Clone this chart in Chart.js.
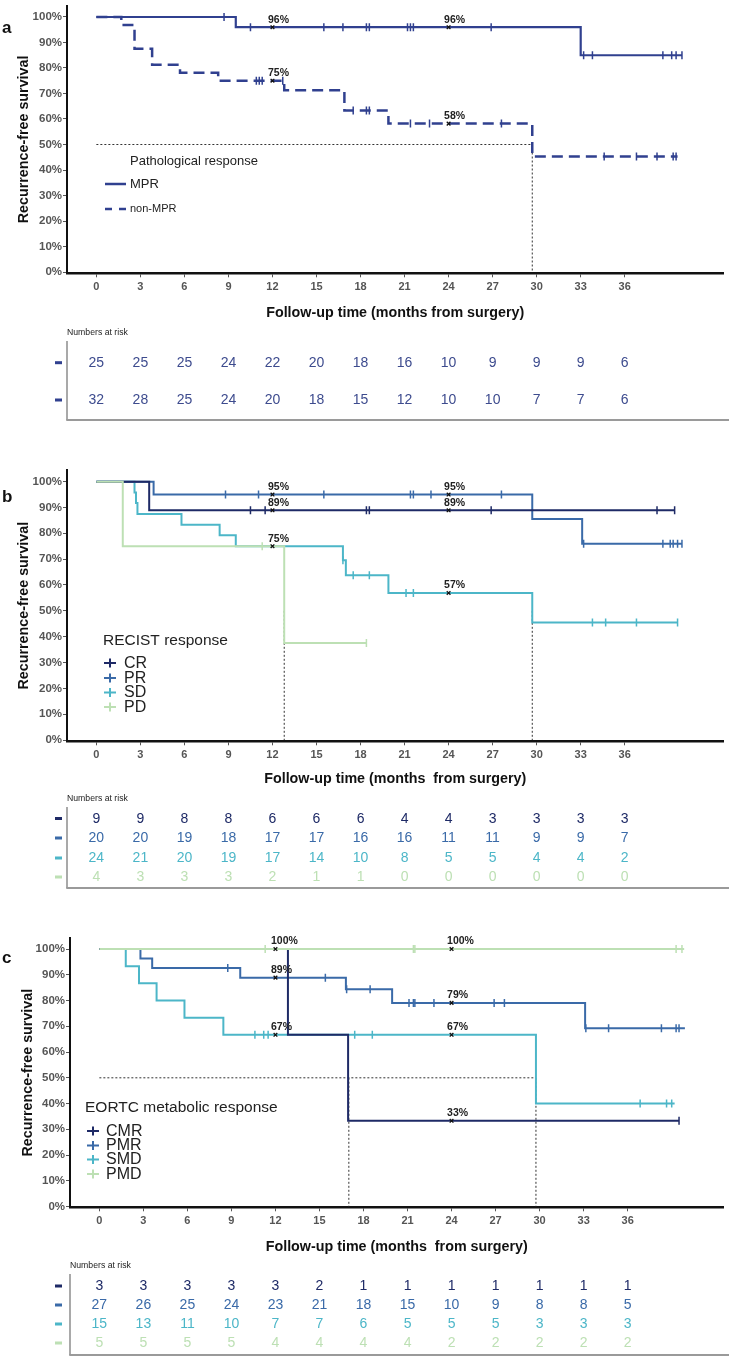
<!DOCTYPE html>
<html lang="en">
  <head>
    <meta charset="UTF-8" />
    <title>Recurrence-free survival by response</title>
    <script src="https://cdn.jsdelivr.net/npm/chart.js"></script>
    <style>
      * {
        margin: 0;
        padding: 0;
        box-sizing: border-box;
      }

      body {
        width: 729px;
        height: 1358px;
        background: #ffffff;
        position: relative;
        overflow: hidden;
      }

      canvas {
        position: absolute;
        left: 0;
      }
    </style>
  </head>
  <body>
    <canvas id="panelA" width="729" height="455" style="top: 0px"></canvas>
    <canvas id="panelB" width="729" height="450" style="top: 455px"></canvas>
    <canvas id="panelC" width="729" height="453" style="top: 905px"></canvas>

    <script>
      // ---- shared axes ----
      const months = [0, 3, 6, 9, 12, 15, 18, 21, 24, 27, 30, 33, 36];
      const pctTicks = [0, 10, 20, 30, 40, 50, 60, 70, 80, 90, 100];
      const markTimes = [12, 24];
      const medianLevel = 50;

      // ---- panel a: pathological response ----
      const mprTime = [0, 9.5, 33.0, 39.9];
      const mprSurv = [100, 96, 85, 85];
      const mprCens = [8.7, 10.5, 15.5, 16.8, 18.4, 18.6, 21.2, 21.4, 21.6, 26.9, 33.2, 33.8, 38.6, 39.2, 39.5, 39.9];
      const mprRisk = [25, 25, 25, 24, 22, 20, 18, 16, 10, 9, 9, 9, 6];

      const nonTime = [0, 1.7, 2.6, 3.8, 5.7, 8.3, 12.8, 16.9, 19.9, 29.7, 39.6];
      const nonSurv = [100, 96.9, 87.5, 81.3, 78.1, 75, 71.3, 63.3, 58.2, 45.3, 45.3];
      const nonCens = [10.9, 11.1, 11.3, 12.7, 17.5, 18.4, 18.6, 21.4, 22.7, 27.6, 34.6, 36.8, 38.2, 39.3, 39.5];
      const nonRisk = [32, 28, 25, 24, 20, 18, 15, 12, 10, 10, 7, 7, 6];
      const aMedians = [29.7];

      // ---- panel b: RECIST response ----
      const crTime = [0, 3.6, 39.4];
      const crSurv = [100, 88.9, 88.9];
      const crCens = [10.5, 11.5, 18.4, 18.6, 26.9, 38.2, 39.4];
      const crRisk = [9, 9, 8, 8, 6, 6, 6, 4, 4, 3, 3, 3, 3];

      const prTime = [0, 3.9, 29.7, 33.1, 39.9];
      const prSurv = [100, 95, 85.5, 76, 76];
      const prCens = [8.8, 11.05, 15.5, 21.4, 21.6, 22.8, 27.6, 33.2, 38.6, 39.1, 39.3, 39.6, 39.9];
      const prRisk = [20, 20, 19, 18, 17, 17, 16, 16, 11, 11, 9, 9, 7];

      const sdTime = [0, 2.6, 2.7, 2.8, 5.8, 8.4, 9.5, 16.8, 17.0, 19.9, 29.7, 39.6];
      const sdSurv = [100, 95.8, 91.7, 87.5, 83.3, 79.2, 75, 69.6, 63.8, 56.9, 45.5, 45.5];
      const sdCens = [16.8, 17.5, 18.6, 21.1, 21.6, 33.8, 34.7, 36.8, 39.6];
      const sdRisk = [24, 21, 20, 19, 17, 14, 10, 8, 5, 5, 4, 4, 2];

      const pdTime = [0, 1.8, 12.8, 18.4];
      const pdSurv = [100, 75, 37.5, 37.5];
      const pdCens = [11.3, 18.4];
      const pdRisk = [4, 3, 3, 3, 2, 1, 1, 0, 0, 0, 0, 0, 0];
      const bMedians = [12.8, 29.7];

      // ---- panel c: EORTC metabolic response ----
      const cmrTime = [0, 12.85, 16.95, 39.5];
      const cmrSurv = [100, 66.7, 33.3, 33.3];
      const cmrCens = [39.5];
      const cmrRisk = [3, 3, 3, 3, 3, 2, 1, 1, 1, 1, 1, 1, 1];

      const pmrTime = [0, 2.8, 3.6, 9.6, 16.8, 19.95, 33.1, 39.9];
      const pmrSurv = [100, 96.3, 92.6, 88.9, 84.4, 79.1, 69.2, 69.2];
      const pmrCens = [8.75, 15.4, 16.85, 18.45, 21.1, 21.4, 21.5, 22.8, 26.9, 27.6, 33.15, 34.7, 38.3, 39.3, 39.5];
      const pmrRisk = [27, 26, 25, 24, 23, 21, 18, 15, 10, 9, 8, 8, 5];

      const smdTime = [0, 1.8, 2.7, 3.9, 5.8, 8.45, 29.75, 39.2];
      const smdSurv = [100, 93.3, 86.7, 80, 73.3, 66.7, 40, 40];
      const smdCens = [10.6, 11.2, 11.5, 17.4, 18.6, 36.85, 38.65, 39.0];
      const smdRisk = [15, 13, 11, 10, 7, 7, 6, 5, 5, 5, 3, 3, 3];

      const pmdTime = [0, 39.85];
      const pmdSurv = [100, 100];
      const pmdCens = [11.3, 21.4, 21.5, 39.3, 39.7];
      const pmdRisk = [5, 5, 5, 5, 4, 4, 4, 4, 2, 2, 2, 2, 2];
      const cMedians = [17.0, 29.75];

      // colours
      const aBlue = "#30408f";
      const navy = "#1e2a66";
      const blue = "#3a6aa8";
      const teal = "#4cb6c8";
      const green = "#bde0b4";

      Chart.defaults.font.family = "'Liberation Sans', Arial, sans-serif";
      Chart.defaults.color = "#444";

      function survAt(times, surv, t) {
        let s = surv[0];
        times.forEach((tt, i) => {
          if (tt <= t) s = surv[i];
        });
        return s;
      }

      const panels = [
        {
          canvas: "panelA",
          letter: "a",
          letterY: 28,
          xMin: -2,
          xMax: 42.73,
          yMin: -0.5,
          yMax: 104.5,
          padTop: 3,
          padBottom: 133.2,
          xAxisH: 48.5,
          yAxisW: 67,
          yTitlePad: 15.5,
          xTitle: "Follow-up time (months from surgery)",
          medians: aMedians,
          medianHoriz: true,
          series: [
            { label: "MPR", time: mprTime, surv: mprSurv, cens: mprCens, marks: markTimes, risk: mprRisk, color: aBlue, riskColor: "#3d4b8e", width: 2.2, order: 2 },
            { label: "non-MPR", time: nonTime, surv: nonSurv, cens: nonCens, marks: markTimes, risk: nonRisk, color: aBlue, riskColor: "#3d4b8e", width: 2.5, dash: [11, 6], order: 1 },
          ],
          legend: {
            kind: "lines",
            title: "Pathological response",
            titleX: 130,
            titleY: 161,
            items: [
              { y: 184, size: 13 },
              { y: 209, size: 11 },
            ],
          },
          risk: { labelY: 333, rows: [362.7, 400], top: 341, bottom: 420 },
        },
        {
          canvas: "panelB",
          letter: "b",
          letterY: 42,
          xMin: -2,
          xMax: 42.73,
          yMin: -0.5,
          yMax: 104.5,
          padTop: 15,
          padBottom: 117.2,
          xAxisH: 46.5,
          yAxisW: 67,
          yTitlePad: 15.5,
          xTitle: "Follow-up time (months  from surgery)",
          medians: bMedians,
          medianHoriz: false,
          series: [
            { label: "CR", time: crTime, surv: crSurv, cens: crCens, marks: markTimes, risk: crRisk, color: navy, order: 2 },
            { label: "PR", time: prTime, surv: prSurv, cens: prCens, marks: markTimes, risk: prRisk, color: blue, order: 3 },
            { label: "SD", time: sdTime, surv: sdSurv, cens: sdCens, marks: markTimes, risk: sdRisk, color: teal, order: 4 },
            { label: "PD", time: pdTime, surv: pdSurv, cens: pdCens, marks: [], risk: pdRisk, color: green, order: 1 },
          ],
          legend: {
            kind: "plus",
            title: "RECIST response",
            titleX: 103,
            titleY: 186,
            markerX: 110,
            labelX: 124,
            rows: [208, 223, 237.5, 252],
          },
          risk: { labelY: 344, rows: [363.5, 383, 403, 422], top: 352, bottom: 433 },
        },
        {
          canvas: "panelC",
          letter: "c",
          letterY: 53.5,
          xMin: -2,
          xMax: 42.53,
          yMin: -0.3,
          yMax: 104.3,
          padTop: 33,
          padBottom: 102.2,
          xAxisH: 48.5,
          yAxisW: 70,
          yTitlePad: 19.5,
          xTitle: "Follow-up time (months  from surgery)",
          medians: cMedians,
          medianHoriz: true,
          series: [
            { label: "CMR", time: cmrTime, surv: cmrSurv, cens: cmrCens, marks: [24], risk: cmrRisk, color: navy, order: 2 },
            { label: "PMR", time: pmrTime, surv: pmrSurv, cens: pmrCens, marks: markTimes, risk: pmrRisk, color: blue, order: 3 },
            { label: "SMD", time: smdTime, surv: smdSurv, cens: smdCens, marks: markTimes, risk: smdRisk, color: teal, order: 4 },
            { label: "PMD", time: pmdTime, surv: pmdSurv, cens: pmdCens, marks: markTimes, risk: pmdRisk, color: green, order: 1 },
          ],
          legend: {
            kind: "plus",
            title: "EORTC metabolic response",
            titleX: 85,
            titleY: 203,
            markerX: 93,
            labelX: 106,
            rows: [226, 240.5, 254.5, 269],
          },
          risk: { labelY: 361, rows: [381, 400, 419, 438], top: 369, bottom: 450 },
        },
      ];

      function buildDatasets(p) {
        const sets = [];
        p.series.forEach((s) => {
          sets.push({
            type: "line",
            data: s.time.map((t, i) => ({ x: t, y: s.surv[i] })),
            stepped: true,
            borderColor: s.color,
            borderWidth: s.width || 2,
            borderDash: s.dash || [],
            pointRadius: 0,
            fill: false,
            order: s.order,
          });
          sets.push({
            data: s.cens.map((t) => ({ x: t, y: survAt(s.time, s.surv, t) })),
            pointStyle: "line",
            rotation: 90,
            pointRadius: 4,
            borderWidth: 1.5,
            borderColor: s.color,
            backgroundColor: s.color,
            order: s.order,
          });
          sets.push({
            isMarker: true,
            data: s.marks.map((t) => ({ x: t, y: survAt(s.time, s.surv, t) })),
            pointStyle: "crossRot",
            pointRadius: 2.6,
            borderWidth: 1.3,
            borderColor: "#111",
            backgroundColor: "#111",
            order: 0,
          });
        });
        const last = Math.max(...p.medians);
        const dotted = (pts) => ({
          type: "line",
          data: pts,
          borderColor: "#333",
          borderWidth: 1,
          borderDash: [2, 2],
          pointRadius: 0,
          fill: false,
          order: 8,
        });
        p.medians.forEach((m) =>
          sets.push(dotted([{ x: m, y: medianLevel }, { x: m, y: 0 }]))
        );
        if (p.medianHoriz) {
          sets.push(dotted([{ x: 0, y: medianLevel }, { x: last, y: medianLevel }]));
        }
        return sets;
      }

      function panelPlugin(p) {
        return {
          id: "panelDecor",
          afterDatasetsDraw(chart) {
            const ctx = chart.ctx;
            // percentage labels above the x markers
            ctx.save();
            ctx.font = "bold 10.5px 'Liberation Sans', Arial, sans-serif";
            ctx.fillStyle = "#222";
            ctx.textAlign = "left";
            ctx.textBaseline = "middle";
            chart.data.datasets.forEach((ds, i) => {
              if (!ds.isMarker) return;
              chart.getDatasetMeta(i).data.forEach((pt, j) => {
                const v = ds.data[j].y;
                ctx.fillText(Math.round(v) + "%", pt.x - 4.5, pt.y - 7.5);
              });
            });
            ctx.restore();
          },
          afterDraw(chart) {
            const ctx = chart.ctx;
            const xs = chart.scales.x;
            const area = chart.chartArea;
            ctx.save();

            // panel letter
            ctx.font = "bold 17px 'Liberation Sans', Arial, sans-serif";
            ctx.fillStyle = "#111";
            ctx.textBaseline = "middle";
            ctx.textAlign = "left";
            ctx.fillText(p.letter, 2, p.letterY);

            // legend
            const lg = p.legend;
            ctx.fillStyle = "#222";
            if (lg.kind === "lines") {
              ctx.font = "13px 'Liberation Sans', Arial, sans-serif";
              ctx.fillText(lg.title, lg.titleX, lg.titleY);
              p.series.forEach((s, i) => {
                const it = lg.items[i];
                ctx.strokeStyle = s.color;
                ctx.lineWidth = 2.5;
                ctx.setLineDash(s.dash ? [7, 7] : []);
                ctx.beginPath();
                ctx.moveTo(105, it.y);
                ctx.lineTo(126, it.y);
                ctx.stroke();
                ctx.setLineDash([]);
                ctx.fillStyle = "#222";
                ctx.font = it.size + "px 'Liberation Sans', Arial, sans-serif";
                ctx.fillText(s.label, lg.titleX, it.y);
              });
            } else {
              ctx.font = "15.5px 'Liberation Sans', Arial, sans-serif";
              ctx.fillText(lg.title, lg.titleX, lg.titleY);
              p.series.forEach((s, i) => {
                const y = lg.rows[i];
                ctx.strokeStyle = s.color;
                ctx.lineWidth = 2;
                ctx.beginPath();
                ctx.moveTo(lg.markerX - 6, y);
                ctx.lineTo(lg.markerX + 6, y);
                ctx.moveTo(lg.markerX, y - 4.5);
                ctx.lineTo(lg.markerX, y + 4.5);
                ctx.stroke();
                ctx.fillStyle = "#222";
                ctx.font = "16px 'Liberation Sans', Arial, sans-serif";
                ctx.fillText(s.label, lg.labelX, y + 0.5);
              });
            }

            // numbers at risk table
            const rk = p.risk;
            ctx.font = "8.7px 'Liberation Sans', Arial, sans-serif";
            ctx.fillStyle = "#222";
            ctx.textAlign = "left";
            ctx.fillText("Numbers at risk", area.left, rk.labelY);

            ctx.strokeStyle = "#8c8c8c";
            ctx.lineWidth = 1.5;
            ctx.beginPath();
            ctx.moveTo(area.left, rk.top);
            ctx.lineTo(area.left, rk.bottom);
            ctx.stroke();
            ctx.strokeStyle = "#9a9a9a";
            ctx.lineWidth = 2;
            ctx.beginPath();
            ctx.moveTo(area.left - 0.75, rk.bottom);
            ctx.lineTo(chart.width, rk.bottom);
            ctx.stroke();

            ctx.textAlign = "center";
            ctx.font = "14px 'Liberation Sans', Arial, sans-serif";
            p.series.forEach((s, i) => {
              const y = rk.rows[i];
              ctx.fillStyle = s.color;
              ctx.fillRect(55, y - 1.5, 7, 3);
              ctx.fillStyle = s.riskColor || s.color;
              s.risk.forEach((n, j) => {
                ctx.fillText(String(n), xs.getPixelForValue(months[j]), y + 0.5);
              });
            });
            ctx.restore();
          },
        };
      }

      panels.forEach((p) => {
        new Chart(document.getElementById(p.canvas), {
          type: "scatter",
          data: { datasets: buildDatasets(p) },
          options: {
            responsive: false,
            animation: false,
            events: [],
            layout: {
              padding: { top: p.padTop, right: 0, bottom: p.padBottom, left: 0 },
            },
            plugins: {
              legend: { display: false },
              tooltip: { enabled: false },
            },
            scales: {
              x: {
                type: "linear",
                min: p.xMin,
                max: p.xMax,
                afterBuildTicks: (s) => {
                  s.ticks = months.map((v) => ({ value: v }));
                },
                afterFit: (s) => {
                  s.height = p.xAxisH;
                  s.paddingLeft = 0;
                  s.paddingRight = 0;
                },
                ticks: {
                  font: { size: 11, weight: "bold" },
                  color: "#555",
                  padding: 3,
                  maxRotation: 0,
                  autoSkip: false,
                },
                grid: { drawOnChartArea: false, drawTicks: true, tickLength: 4, tickColor: "#555" },
                border: { display: true, color: "#111", width: 2.5 },
                title: {
                  display: true,
                  text: p.xTitle,
                  font: { size: 14.3, weight: "bold" },
                  color: "#111",
                  padding: 0,
                },
              },
              y: {
                type: "linear",
                min: p.yMin,
                max: p.yMax,
                afterBuildTicks: (s) => {
                  s.ticks = pctTicks.map((v) => ({ value: v }));
                },
                afterFit: (s) => {
                  s.width = p.yAxisW;
                  s.paddingTop = 0;
                  s.paddingBottom = 0;
                },
                ticks: {
                  callback: (v) => v + "%",
                  font: { size: 11.5, weight: "bold" },
                  color: "#555",
                  padding: 1,
                },
                grid: { drawOnChartArea: false, drawTicks: true, tickLength: 4, tickColor: "#555" },
                border: { display: true, color: "#111", width: 2 },
                title: {
                  display: true,
                  text: "Recurrence-free survival",
                  font: { size: 14.3, weight: "bold" },
                  color: "#111",
                  padding: { top: p.yTitlePad, bottom: 0 },
                },
              },
            },
          },
          plugins: [panelPlugin(p)],
        });
      });
    </script>
  </body>
</html>
